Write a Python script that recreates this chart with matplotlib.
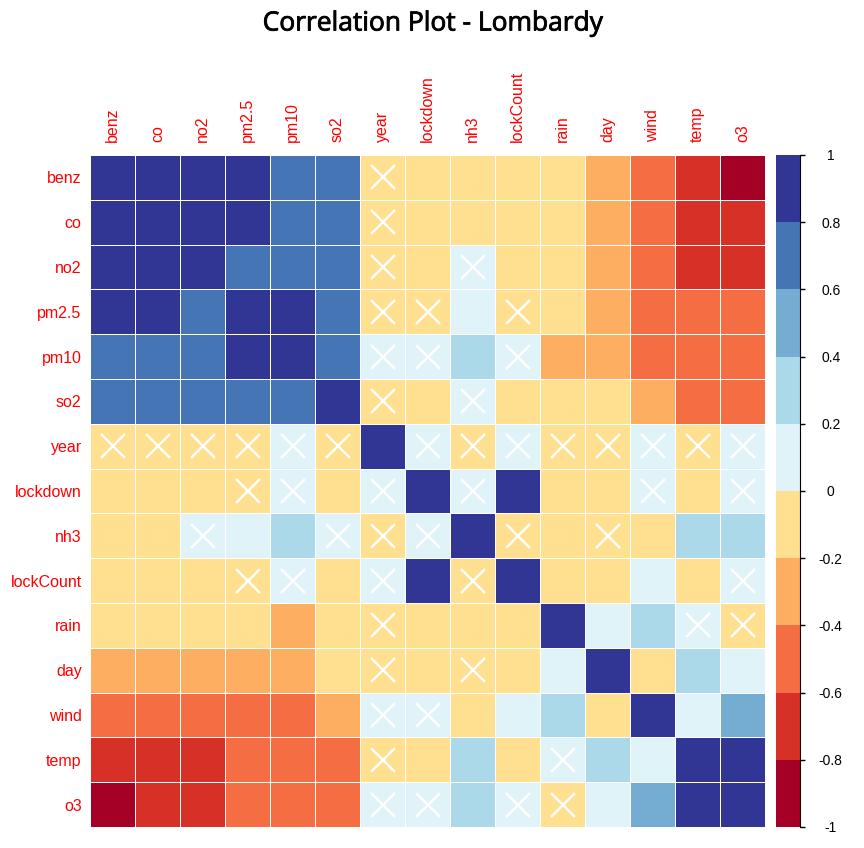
import numpy as np
import matplotlib
matplotlib.use("Agg")
import matplotlib.pyplot as plt
import matplotlib.patheffects as pe
from matplotlib.colors import ListedColormap, BoundaryNorm

# Variables in plotted order
variables = ["benz", "co", "no2", "pm2.5", "pm10", "so2", "year", "lockdown",
             "nh3", "lockCount", "rain", "day", "wind", "temp", "o3"]

# Correlation values (estimated from the chart colours)
corr = [
    [1.00, 0.92, 0.90, 0.88, 0.72, 0.70, -0.05, -0.12, -0.10, -0.12, -0.15, -0.30, -0.52, -0.72, -0.85],
    [0.92, 1.00, 0.91, 0.87, 0.70, 0.68, -0.04, -0.10, -0.08, -0.11, -0.14, -0.28, -0.50, -0.70, -0.72],
    [0.90, 0.91, 1.00, 0.78, 0.74, 0.68, -0.03, -0.10, 0.02, -0.11, -0.13, -0.30, -0.48, -0.74, -0.70],
    [0.88, 0.87, 0.78, 1.00, 0.90, 0.66, -0.02, -0.03, 0.08, -0.03, -0.12, -0.32, -0.55, -0.55, -0.52],
    [0.72, 0.70, 0.74, 0.90, 1.00, 0.65, 0.02, 0.03, 0.30, 0.03, -0.25, -0.30, -0.52, -0.52, -0.50],
    [0.70, 0.68, 0.68, 0.66, 0.65, 1.00, -0.02, -0.10, 0.03, -0.10, -0.12, -0.15, -0.35, -0.45, -0.48],
    [-0.05, -0.04, -0.03, -0.02, 0.02, -0.02, 1.00, 0.02, -0.03, 0.02, -0.04, -0.02, 0.03, -0.03, 0.02],
    [-0.12, -0.10, -0.10, -0.03, 0.03, -0.10, 0.02, 1.00, 0.02, 0.95, -0.10, -0.12, 0.03, -0.15, 0.02],
    [-0.10, -0.08, 0.02, 0.08, 0.30, 0.03, -0.03, 0.02, 1.00, -0.03, -0.10, -0.02, -0.12, 0.30, 0.28],
    [-0.12, -0.11, -0.11, -0.03, 0.03, -0.10, 0.02, 0.95, -0.03, 1.00, -0.10, -0.12, 0.08, -0.15, 0.02],
    [-0.15, -0.14, -0.13, -0.12, -0.25, -0.12, -0.04, -0.10, -0.10, -0.10, 1.00, 0.10, 0.25, 0.03, -0.03],
    [-0.30, -0.28, -0.30, -0.32, -0.30, -0.15, -0.02, -0.12, -0.02, -0.12, 0.10, 1.00, -0.15, 0.28, 0.10],
    [-0.52, -0.50, -0.48, -0.55, -0.52, -0.35, 0.03, 0.03, -0.12, 0.08, 0.25, -0.15, 1.00, 0.12, 0.50],
    [-0.72, -0.70, -0.74, -0.55, -0.52, -0.45, -0.03, -0.15, 0.30, -0.15, 0.03, 0.28, 0.12, 1.00, 0.88],
    [-0.85, -0.72, -0.70, -0.52, -0.50, -0.48, 0.02, 0.02, 0.28, 0.02, -0.03, 0.10, 0.50, 0.88, 1.00],
]

# Pairs whose correlation is not significant (crossed out)
insignificant = [
    ("year", "benz"), ("year", "co"), ("year", "no2"), ("year", "pm2.5"),
    ("year", "pm10"), ("year", "so2"), ("year", "lockdown"), ("year", "nh3"),
    ("year", "lockCount"), ("year", "rain"), ("year", "day"), ("year", "wind"),
    ("year", "temp"), ("year", "o3"),
    ("no2", "nh3"), ("pm2.5", "lockdown"), ("pm2.5", "lockCount"),
    ("pm10", "lockdown"), ("pm10", "lockCount"), ("so2", "nh3"),
    ("lockdown", "nh3"), ("lockdown", "wind"), ("lockdown", "o3"),
    ("nh3", "lockCount"), ("nh3", "day"), ("lockCount", "o3"),
    ("rain", "temp"), ("rain", "o3"),
]

bin_colors = ["#A50026", "#D73027", "#F46D43", "#FDAE61", "#FEE090",
              "#E0F3F8", "#ABD9E9", "#74ADD1", "#4575B4", "#313695"]
bounds = np.linspace(-1, 1, 11)
cmap = ListedColormap(bin_colors)
norm = BoundaryNorm(bounds, cmap.N)

W, H = 864, 848
fig = plt.figure(figsize=(W / 100, H / 100), dpi=100)

n = len(variables)
ax = fig.add_axes([90 / W, 1 - 827 / H, 675 / W, 672 / H])
ax.pcolormesh(np.arange(n + 1), np.arange(n + 1), np.array(corr),
              cmap=cmap, norm=norm, edgecolors="white", linewidth=0.7)
ax.set_xlim(0, n)
ax.set_ylim(n, 0)

idx = {v: i for i, v in enumerate(variables)}
xs, ys = [], []
for a, b in insignificant:
    i, j = idx[a], idx[b]
    xs += [j + 0.5, i + 0.5]
    ys += [i + 0.5, j + 0.5]
ax.plot(xs, ys, linestyle="none", marker="x", color="white",
        markersize=17, markeredgewidth=1.7)

ax.xaxis.tick_top()
ax.set_xticks(np.arange(n) + 0.5)
ax.set_xticklabels(variables, rotation=90, color="red",
                   fontsize=11.5, family="Liberation Sans")
ax.set_yticks(np.arange(n) + 0.5)
ax.set_yticklabels(variables, color="red", fontsize=11.5,
                   family="Liberation Sans")
ax.tick_params(axis="x", length=0, pad=9)
ax.tick_params(axis="y", length=0, pad=6)
for s in ax.spines.values():
    s.set_visible(False)

# Colour bar
cax = fig.add_axes([776 / W, 1 - 827 / H, 24 / W, 672 / H])
cax.pcolormesh([0, 1], bounds, np.array(bounds[:-1] + 0.1).reshape(-1, 1),
               cmap=cmap, norm=norm)
cax.set_xlim(0, 1)
cax.set_ylim(-1, 1)
cax.set_xticks([])
cax.yaxis.tick_right()
ticks = np.round(np.linspace(-1, 1, 11), 1)
cax.set_yticks(ticks)
cax.set_yticklabels(["%g" % t for t in ticks], fontsize=10,
                    family="Liberation Sans", ha="center")
cax.tick_params(axis="y", length=3.6, width=1, pad=18.5)
for k, s in cax.spines.items():
    s.set_visible(k == "right")

fig.text(433 / W, 1 - 24 / H, "Correlation Plot - Lombardy",
         ha="center", va="center", fontsize=19, family="Open Sans",
         path_effects=[pe.withStroke(linewidth=0.6, foreground="black")])

fig.savefig("out.png", dpi=100)
